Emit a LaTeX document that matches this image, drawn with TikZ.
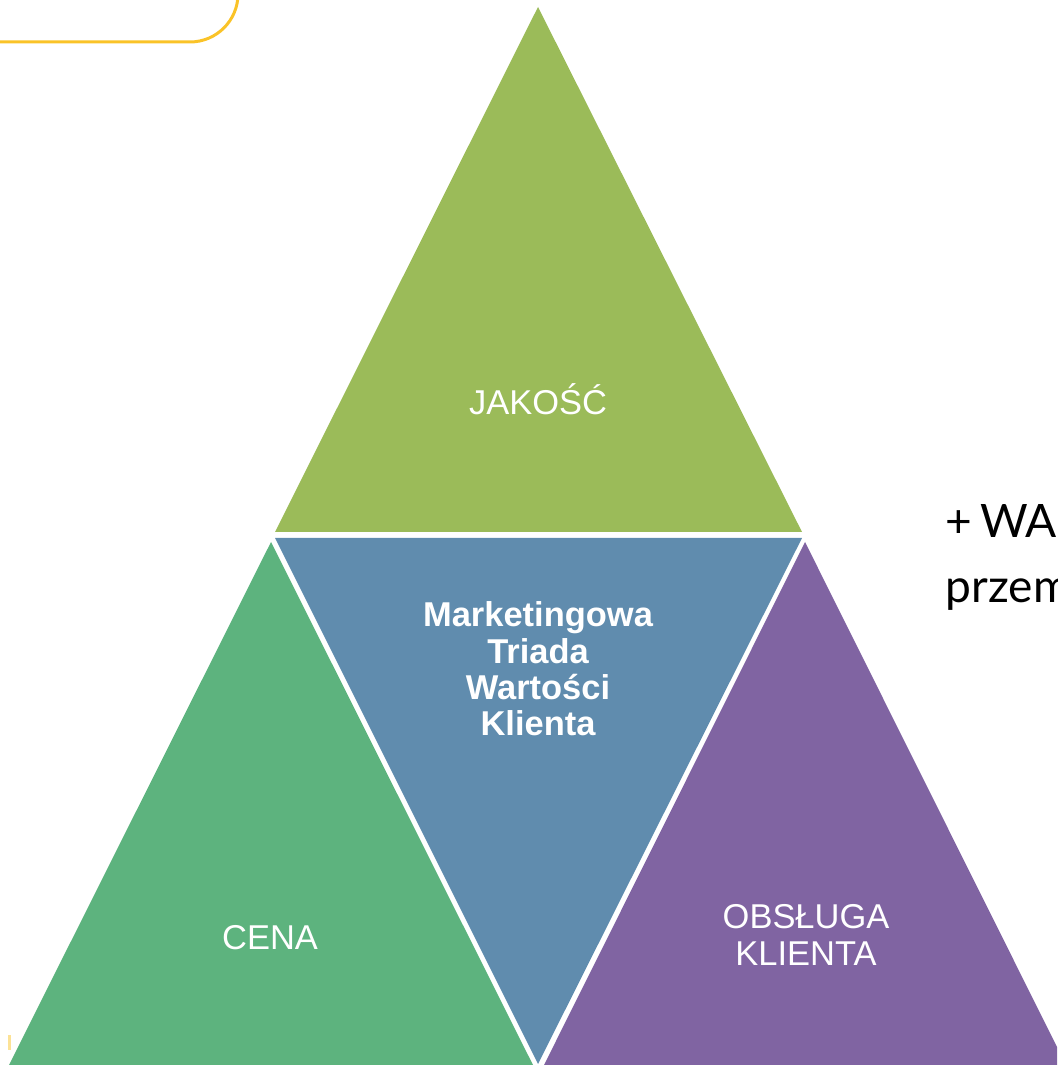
\documentclass[tikz,border=0pt]{standalone}
\usepackage{fontspec}
\setmainfont{Liberation Sans}
\newfontfamily\latofont{Lato}
\definecolor{topgreen}{RGB}{155,187,89}
\definecolor{midblue}{RGB}{96,140,174}
\definecolor{leftgreen}{RGB}{93,179,126}
\definecolor{rightpurple}{RGB}{128,100,162}
\definecolor{boxyellow}{RGB}{250,195,40}
\definecolor{paleyellow}{RGB}{252,226,150}
\begin{document}
\begin{tikzpicture}[x=0.01cm,y=-0.01cm,
  tri/.style={draw=none},
  lbl/.style={text=white,inner sep=0pt,font=\fontsize{9.8}{10.3}\selectfont},
  side/.style={text=black,inner sep=0pt,anchor=base west,font=\latofont\fontsize{13.1}{15}\selectfont}]
\useasboundingbox (0,0) rectangle (1057,1065);
\clip (0,0) rectangle (1057,1065);
% yellow frame fragment
\draw[boxyellow,line width=0.85pt,rounded corners=0.48cm] (238,-30) -- (238,42) -- (-30,42);
\draw[paleyellow,line width=0.6pt] (9.5,1035) -- (9.5,1050);
% triangles
\fill[topgreen] (538,7) -- (802,532) -- (275,532) -- cycle;
\fill[midblue] (275,538) -- (802,538) -- (538,1064) -- cycle;
\fill[leftgreen] (271,542) -- (533,1065) -- (9,1065) -- cycle;
\fill[rightpurple] (805,542) -- (1066,1065) -- (544,1065) -- cycle;
% labels
\node[lbl,anchor=base] (jakosc) at (538,415) {JAKOŚĆ};
\node[lbl,anchor=center,align=center,font=\bfseries\fontsize{9.8}{10.3}\selectfont] (triada) at (538,669) {Marketingowa\\Triada\\Wartości\\Klienta};
\node[lbl,anchor=base] (cena) at (270,949) {CENA};
\node[lbl,anchor=center,align=center] (obsluga) at (806,935) {OBSŁUGA\\KLIENTA};
% right text (cut off by the frame)
\node[side] (plus) at (945,538) {+\,WA};
\node[side] (przem) at (945,603) {przem};
\end{tikzpicture}
\end{document}
